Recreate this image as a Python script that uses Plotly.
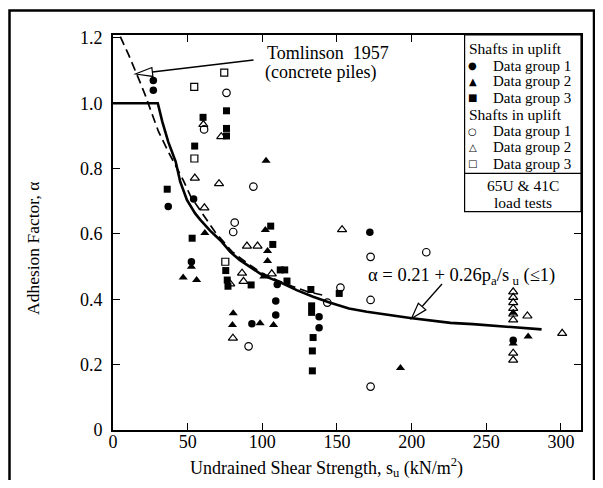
import math
import plotly.graph_objects as go

# ---------------- data ----------------
# Design line  alpha = 0.21 + 0.26 pa/su (<=1)
solid_su = [0, 30, 33, 37, 42, 45, 49.5, 55, 58.5, 65, 72, 78.5, 85, 92, 100, 112, 123,
            134, 145, 158, 170, 199, 226, 241, 268, 287]
solid_alpha = [1.0, 1.0, 0.944, 0.882, 0.821, 0.76, 0.704, 0.663, 0.643, 0.61, 0.58, 0.545,
               0.52, 0.498, 0.474, 0.452, 0.428, 0.408, 0.39, 0.372, 0.362, 0.343, 0.328,
               0.324, 0.314, 0.308]

# Tomlinson 1957 (concrete piles)
tom_su = [4.9, 10.5, 17, 21.6, 26, 30.5, 37, 42, 47, 52, 59.6, 68.5, 79.7, 90, 100, 110,
          120, 130, 143]
tom_alpha = [1.204, 1.148, 1.077, 1.025, 0.969, 0.913, 0.852, 0.81, 0.765, 0.715, 0.663,
             0.605, 0.546, 0.51, 0.48, 0.458, 0.44, 0.424, 0.41]

# Shafts in uplift (filled symbols)
g1_fill_su = [27, 27, 37, 54, 52.5, 93, 109, 109, 110, 138, 138, 172, 268]
g1_fill_alpha = [1.07, 1.04, 0.684, 0.707, 0.515, 0.325, 0.395, 0.352, 0.445, 0.347, 0.313,
                 0.605, 0.275]

g2_fill_su = [47, 56, 52.5, 61.5, 80.5, 80, 98.5, 107.5, 102.5, 102, 103.5, 103.5, 101,
              192.5, 278, 268, 268]
g2_fill_alpha = [0.467, 0.459, 0.50, 0.603, 0.357, 0.321, 0.327, 0.321, 0.824, 0.612, 0.548,
                 0.517, 0.47, 0.19, 0.286, 0.359, 0.265]

g3_fill_su = [36.3, 54.7, 60.3, 76, 76, 76, 53, 75.5, 76.5, 77, 92.5, 105.6, 107, 112, 115,
              116.5, 132.5, 133, 133, 134, 133.5, 133.5, 151.5]
g3_fill_alpha = [0.737, 0.869, 0.957, 0.977, 0.923, 0.90, 0.587, 0.488, 0.459, 0.44, 0.444,
                 0.624, 0.568, 0.49, 0.49, 0.456, 0.43, 0.38, 0.36, 0.283, 0.242, 0.181,
                 0.418]

# Shafts in uplift (open symbols)
g1_open_su = [76, 61, 94, 81.5, 80.5, 90.8, 143.5, 152.3, 172.5, 172.5, 172.5, 209.8]
g1_open_alpha = [1.032, 0.92, 0.745, 0.635, 0.606, 0.256, 0.39, 0.436, 0.53, 0.398, 0.133,
                 0.544]

g2_open_su = [60.5, 72.5, 54.8, 71, 61.2, 89.7, 96.8, 86.4, 87.4, 78.5, 106.3, 80.3, 153.4,
              268, 268, 268, 268, 268, 268, 268, 268, 277.5, 300.8]
g2_open_alpha = [0.935, 0.898, 0.771, 0.754, 0.68, 0.563, 0.563, 0.48, 0.455, 0.447, 0.478,
                 0.281, 0.613, 0.423, 0.406, 0.39, 0.372, 0.355, 0.337, 0.235, 0.214, 0.349,
                 0.296]

g3_open_su = [74.5, 54.4, 54.5, 75.2]
g3_open_alpha = [1.094, 1.05, 0.831, 0.515]

x_ticks = [0, 50, 100, 150, 200, 250, 300]
x_tick_labels = ["0", "50", "100", "150", "200", "250", "300"]
y_ticks = [0, 0.2, 0.4, 0.6, 0.8, 1.0, 1.2]
y_tick_labels = ["0", "0.2", "0.4", "0.6", "0.8", "1.0", "1.2"]

# ---------------- layout helpers ----------------
# The page body has an 8px margin, so the figure is made 16px smaller and
# positions below are given in window pixels.
OFF = 8
W, H = 603 - 2 * OFF, 488 - 2 * OFF
L, R, T, B = 113, 581, 35, 430
SERIF = "Liberation Serif, Times New Roman, serif"


def px(p):
    return (p - L) / (R - L)


def py(q):
    return (B - q) / (B - T)


fig = go.Figure()

fig.add_trace(go.Scatter(x=solid_su, y=solid_alpha, mode="lines",
                         line=dict(color="black", width=2.6),
                         name="alpha = 0.21 + 0.26pa/su", showlegend=False))
fig.add_trace(go.Scatter(x=tom_su, y=tom_alpha, mode="lines",
                         line=dict(color="black", width=1.7, dash="9px,5px"),
                         name="Tomlinson 1957", showlegend=False))


def add_pts(xs, ys, symbol, size, name, lw=0):
    fig.add_trace(go.Scatter(
        x=xs, y=ys, mode="markers", name=name, showlegend=False,
        marker=dict(symbol=symbol, size=size, color="black",
                    line=dict(color="black", width=lw))))


add_pts(g1_fill_su, g1_fill_alpha, "circle", 7.5, "Data group 1 (filled)")
add_pts(g2_fill_su, g2_fill_alpha, "triangle-up", 8, "Data group 2 (filled)")
add_pts(g3_fill_su, g3_fill_alpha, "square", 7, "Data group 3 (filled)")
add_pts(g1_open_su, g1_open_alpha, "circle-open", 7.5, "Data group 1 (open)", 1.2)
add_pts(g2_open_su, g2_open_alpha, "triangle-up-open", 8, "Data group 2 (open)", 1.2)
add_pts(g3_open_su, g3_open_alpha, "square-open", 7, "Data group 3 (open)", 1.2)

shapes = []
annotations = []

# outer frame of the figure
shapes.append(dict(type="rect", xref="paper", yref="paper",
                   x0=px(9.5), x1=px(594), y0=py(500), y1=py(10.5),
                   line=dict(color="black", width=2.5)))

# legend box
shapes.append(dict(type="rect", xref="paper", yref="paper",
                   x0=px(464.6), x1=px(581), y0=py(211.7), y1=py(35),
                   line=dict(color="black", width=1.2), fillcolor="white", layer="above"))
shapes.append(dict(type="line", xref="paper", yref="paper",
                   x0=px(464.6), x1=px(581), y0=py(173.3), y1=py(173.3),
                   line=dict(color="black", width=1.2)))


def arrow(tail, tip, head_len, half_w):
    (sx, sy), (tx, ty) = tail, tip
    dx, dy = sx - tx, sy - ty
    d = math.hypot(dx, dy)
    ux, uy = dx / d, dy / d
    cx, cy = tx + ux * head_len, ty + uy * head_len
    nx, ny = -uy, ux
    shapes.append(dict(type="line", xref="paper", yref="paper",
                       x0=px(sx), y0=py(sy), x1=px(cx), y1=py(cy),
                       line=dict(color="black", width=1.3)))
    p1 = (cx + nx * half_w, cy + ny * half_w)
    p2 = (cx - nx * half_w, cy - ny * half_w)
    path = "M {:.5f},{:.5f} L {:.5f},{:.5f} L {:.5f},{:.5f} Z".format(
        px(tx), py(ty), px(p1[0]), py(p1[1]), px(p2[0]), py(p2[1]))
    shapes.append(dict(type="path", xref="paper", yref="paper", path=path,
                       line=dict(color="black", width=1.2), fillcolor="white"))


arrow((253.5, 60), (135.5, 74), 17, 4.5)
arrow((442, 284), (411.5, 318.5), 16, 5)


def text(s, x, y, size, xanchor="left", **kw):
    annotations.append(dict(text=s, xref="paper", yref="paper", x=px(x), y=py(y),
                            xanchor=xanchor, yanchor="middle", showarrow=False,
                            font=dict(family=SERIF, size=size, color="black"), **kw))


text("Tomlinson  1957", 265, 53, 18)
text("(concrete piles)", 263, 72, 18)
text("α = 0.21 + 0.26p<sub>a</sub>/s<sub> u</sub> (≤1)", 366, 276, 18.5)

# legend contents
text("Shafts in uplift", 467, 49, 15.5)
text("Shafts in uplift", 467, 115, 15.5)
rows = [(65.8, "●", "Data group 1"), (81.5, "▲", "Data group 2"), (97.8, "■", "Data group 3"),
        (131.3, "○", "Data group 1"), (147.3, "△", "Data group 2"), (163.6, "□", "Data group 3")]
for yy, g, lab in rows:
    annotations.append(dict(text=g, xref="paper", yref="paper", x=px(472.5), y=py(yy),
                            xanchor="center", yanchor="middle", showarrow=False,
                            font=dict(family="DejaVu Sans", size=10, color="black")))
    text(lab, 491, yy, 15)
text("65U &amp; 41C", 523, 185.5, 15.5, xanchor="center")
text("load tests", 523, 202, 15.5, xanchor="center")

# axis titles
text("Undrained Shear Strength, s<sub>u</sub> (kN/m<sup>2</sup>)", 326, 467, 18,
     xanchor="center")
annotations.append(dict(text="Adhesion Factor, α", xref="paper", yref="paper",
                        x=px(33), y=py(249), xanchor="center", yanchor="middle",
                        textangle=-90, showarrow=False,
                        font=dict(family=SERIF, size=17.5, color="black")))

axis_common = dict(showgrid=False, zeroline=False, showline=True, linecolor="black",
                   linewidth=2, mirror="ticks", ticks="inside", ticklen=7, tickwidth=1.3,
                   tickcolor="black",
                   tickfont=dict(family=SERIF, size=18, color="black"))

fig.update_layout(
    width=W, height=H, autosize=False,
    margin=dict(l=L - OFF, r=(W + OFF) - R, t=T - OFF, b=(H + OFF) - B, pad=0),
    paper_bgcolor="white", plot_bgcolor="white",
    showlegend=False,
    xaxis=dict(range=[0, 313.4], tickvals=x_ticks, ticktext=x_tick_labels,
               ticklabelstandoff=-6, **axis_common),
    yaxis=dict(range=[0, 1.209], tickvals=y_ticks, ticktext=y_tick_labels,
               ticklabelstandoff=5, **axis_common),
    shapes=shapes, annotations=annotations,
)

fig.write_html("out.html")
